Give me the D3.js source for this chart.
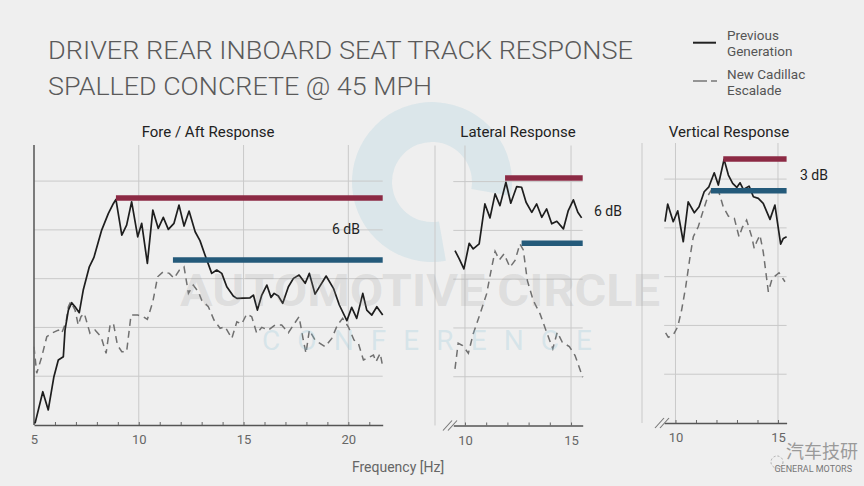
<!DOCTYPE html>
<html><head><meta charset="utf-8">
<script src="https://cdn.jsdelivr.net/npm/d3@7"></script>
<style>html,body{margin:0;padding:0;background:#efefef;} svg{display:block;}</style>
</head><body><svg id="c" width="864" height="486"></svg>
<script>
// ---------- DATA ----------
const titleLines = ["DRIVER REAR INBOARD SEAT TRACK RESPONSE", "SPALLED CONCRETE @ 45 MPH"];
const legendPrevious = ["Previous", "Generation"];
const legendNew = ["New Cadillac", "Escalade"];
const panelTitles = ["Fore / Aft Response", "Lateral Response", "Vertical Response"];
const xAxisTitle = "Frequency [Hz]";
const gridLevels = [5, 10, 15, 20, 25];          // dB grid
const foreAftTicks = [5, 10, 15, 20];
const lateralTicks = [10, 15];
const verticalTicks = [10, 15];

// [frequency Hz, level dB]
const foreAftPrevious = [[5.05,0.17],[5.42,3.41],[5.68,1.54],[5.95,4.95],[6.16,6.66],[6.40,7.00],[6.48,9.73],[6.64,11.78],[6.80,12.53],[6.96,12.12],[7.16,11.51],[7.35,13.83],[7.64,16.22],[7.86,17.18],[8.23,19.98],[8.55,21.69],[8.79,22.71],[8.91,23.13],[9.19,19.47],[9.42,20.49],[9.66,22.88],[9.95,19.29],[10.14,20.67],[10.41,16.57],[10.67,22.03],[10.93,20.15],[11.17,21.28],[11.41,20.05],[11.68,20.67],[11.92,22.54],[12.16,20.39],[12.40,21.93],[12.69,19.81],[12.92,18.90],[13.16,17.42],[13.48,15.54],[13.72,15.88],[13.96,15.54],[14.20,14.17],[14.51,13.22],[14.68,12.98],[15.31,13.04],[15.47,13.32],[15.66,11.78],[15.87,13.32],[16.11,14.34],[16.31,13.08],[16.46,13.49],[16.66,13.22],[16.87,12.47],[17.14,14.17],[17.38,15.03],[17.65,15.37],[17.94,14.52],[18.14,15.54],[18.41,13.42],[18.94,15.27],[19.29,14.01],[19.57,12.30],[19.93,10.69],[20.16,12.06],[20.40,10.93],[20.69,13.49],[20.88,11.78],[21.12,11.27],[21.36,12.12],[21.64,11.27]];
const foreAftNew = [[5.00,8.02],[5.13,5.30],[5.37,7.00],[5.61,9.05],[5.89,9.46],[6.16,9.73],[6.32,9.40],[6.53,10.58],[6.64,12.12],[6.75,12.63],[6.96,11.78],[7.11,10.25],[7.24,11.10],[7.40,11.44],[7.67,9.40],[7.91,9.73],[8.20,9.05],[8.44,7.35],[8.63,10.25],[8.79,10.42],[8.98,8.20],[9.19,7.51],[9.42,7.51],[9.63,11.27],[9.95,11.27],[10.22,11.10],[10.41,10.83],[10.67,12.63],[10.90,15.19],[11.17,15.71],[11.46,15.54],[11.68,15.03],[11.94,15.88],[12.16,16.22],[12.37,13.49],[12.60,14.34],[12.84,13.66],[13.00,12.81],[13.32,12.12],[13.59,10.76],[13.88,9.91],[14.12,10.07],[14.44,8.88],[14.68,10.58],[14.91,10.35],[15.15,11.37],[15.39,11.10],[15.63,9.40],[15.87,10.01],[16.18,9.73],[16.50,10.25],[16.82,10.25],[17.14,9.46],[17.38,10.25],[17.65,11.10],[17.85,8.71],[17.98,7.35],[18.14,9.73],[18.41,8.71],[18.89,8.02],[19.21,8.88],[19.48,10.25],[19.73,10.93],[20.00,10.07],[20.27,8.71],[20.48,8.37],[20.72,6.66],[20.88,6.83],[21.20,7.17],[21.32,6.49],[21.52,7.35],[21.64,5.97]];
const lateralPrevious = [[9.53,17.93],[9.73,17.08],[9.95,16.05],[10.20,18.68],[10.39,18.10],[10.67,18.62],[10.94,22.71],[11.18,21.28],[11.42,23.74],[11.65,22.54],[11.93,24.93],[12.16,22.78],[12.44,24.49],[12.67,24.42],[12.88,22.88],[13.15,21.85],[13.38,22.71],[13.62,21.34],[13.85,22.20],[14.09,20.67],[14.33,20.93],[14.64,20.15],[14.87,22.03],[15.11,23.13],[15.32,21.85],[15.50,21.28]];
const lateralNew = [[9.53,5.81],[9.68,8.43],[9.89,8.20],[10.16,7.41],[10.39,9.40],[10.71,11.44],[11.02,13.49],[11.26,16.22],[11.42,17.86],[11.62,16.98],[11.84,17.59],[12.12,16.22],[12.36,16.91],[12.59,18.62],[12.75,18.00],[12.94,14.86],[13.22,12.81],[13.54,11.44],[13.85,9.56],[14.14,7.86],[14.35,9.56],[14.59,8.53],[14.92,8.09],[15.19,7.17],[15.55,4.95]];
const verticalPrevious = [[9.49,20.63],[9.62,22.44],[9.89,20.63],[10.11,21.75],[10.38,18.58],[10.62,22.67],[10.92,21.55],[11.15,22.16],[11.40,23.70],[11.63,24.21],[11.89,25.65],[12.09,24.39],[12.37,27.02],[12.58,25.41],[12.79,24.56],[12.99,24.15],[13.15,24.62],[13.31,23.94],[13.59,24.28],[13.80,23.19],[14.04,23.02],[14.28,22.51],[14.61,20.87],[14.85,22.34],[15.13,18.34],[15.26,18.92],[15.42,19.09]];
const verticalNew = [[9.52,9.25],[9.65,8.78],[9.89,9.02],[10.11,9.87],[10.30,11.58],[10.50,13.97],[10.71,17.04],[10.87,19.09],[11.11,20.11],[11.36,21.82],[11.60,23.36],[11.80,24.05],[12.09,23.87],[12.33,22.16],[12.58,21.21],[12.87,20.97],[13.10,19.09],[13.26,20.05],[13.47,20.80],[13.72,19.09],[13.84,17.90],[13.96,18.58],[14.12,19.26],[14.28,17.55],[14.53,13.45],[14.72,14.83],[15.05,15.40],[15.34,14.48]];

// peak reference levels per panel (dB) and the frequency where each bar starts
const peakPrevious = [23.26, 25.36, 27.05];
const peakPreviousStart = [8.91, 11.89, 12.33];
const peakNew = [16.9, 18.67, 23.8];
const peakNewStart = [11.63, 12.67, 11.73];
const deltaLabels = ["6 dB", "6 dB", "3 dB"];

// ---------- LAYOUT ----------
const svg = d3.select("#c");
const FONT = "Roboto, 'Noto Sans', 'DejaVu Sans', sans-serif";
svg.append("rect").attr("width", 864).attr("height", 486).attr("fill", "#efefef");

// watermark (faint)
const wm = svg.append("g");
wm.append("path")
  .attr("transform", "translate(432,182)")
  .attr("d", d3.arc().innerRadius(40).outerRadius(80)
      .startAngle(170 * Math.PI / 180).endAngle(460 * Math.PI / 180)())
  .attr("fill", "rgba(140,195,215,0.2)");

const panels = [
  {title: panelTitles[0], titleX: 208, prev: foreAftPrevious, nw: foreAftNew, dom: [5, 21.64], rng: [34, 382.7],
   yb: 425, ticks: foreAftTicks, minor: d3.range(5, 22), leftLine: null, brk: null, deltaX: 332},
  {title: panelTitles[1], titleX: 518, prev: lateralPrevious, nw: lateralNew, dom: [9.45, 15.55], rng: [453.3, 582.7],
   yb: 425.5, ticks: lateralTicks, minor: d3.range(10, 16), leftLine: 435, brk: 443, deltaX: 594},
  {title: panelTitles[2], titleX: 729, prev: verticalPrevious, nw: verticalNew, dom: [9.45, 15.42], rng: [664.2, 786.6],
   yb: 423, ticks: verticalTicks, minor: d3.range(10, 16), leftLine: 642, brk: 655, deltaX: 800}
];

panels.forEach((p, i) => {
  const x = d3.scaleLinear().domain(p.dom).range(p.rng);
  const y = d3.scaleLinear().domain([0, 28.7]).range([p.yb, p.yb - 280]);
  const g = svg.append("g");
  const x0 = p.rng[0], x1 = p.rng[1];

  if (p.leftLine !== null) {
    g.append("line").attr("x1", p.leftLine).attr("x2", p.leftLine)
      .attr("y1", y(28.7)).attr("y2", p.yb).attr("stroke", "#cfcfcf").attr("stroke-width", 1.2);
  }
  g.selectAll(".hg").data(gridLevels).join("line")
    .attr("x1", x0).attr("x2", x1).attr("y1", d => y(d)).attr("y2", d => y(d))
    .attr("stroke", "#c9c9c9").attr("stroke-width", 1);
  g.selectAll(".vg").data(p.ticks.filter(t => t > p.dom[0] + 0.1)).join("line")
    .attr("x1", d => x(d)).attr("x2", d => x(d)).attr("y1", y(28.7)).attr("y2", p.yb)
    .attr("stroke", "#c9c9c9").attr("stroke-width", 1);
  if (i === 0) {
    g.append("line").attr("x1", x0).attr("x2", x0).attr("y1", y(28.7)).attr("y2", p.yb)
      .attr("stroke", "#555").attr("stroke-width", 1.5);
  }
  const ax = g.append("g").attr("transform", `translate(0,${p.yb})`)
    .call(d3.axisBottom(x).tickValues(p.minor)
      .tickFormat(d => p.ticks.includes(d) ? d : "")
      .tickSizeInner(-3).tickSizeOuter(0).tickPadding(10));
  ax.select(".domain").attr("stroke", "#555").attr("stroke-width", 1.5);
  ax.selectAll(".tick line").attr("stroke", "#666");
  ax.selectAll("text").attr("fill", "#666").attr("font-size", 13).attr("font-family", FONT);
  if (p.brk !== null) {
    [0, 5].forEach(o => g.append("line")
      .attr("x1", p.brk + o).attr("y1", p.yb + 5).attr("x2", p.brk + o + 9).attr("y2", p.yb - 5)
      .attr("stroke", "#777").attr("stroke-width", 1.1));
  }
  const line = d3.line().x(d => x(d[0])).y(d => y(d[1]));
  g.append("path").attr("d", line(p.nw)).attr("fill", "none")
    .attr("stroke", "#707070").attr("stroke-width", 1.5).attr("stroke-dasharray", "7,5");
  g.append("path").attr("d", line(p.prev)).attr("fill", "none")
    .attr("stroke", "#1e1e1e").attr("stroke-width", 1.7).attr("stroke-linejoin", "round");
  g.append("line").attr("x1", x(peakPreviousStart[i])).attr("x2", x1)
    .attr("y1", y(peakPrevious[i])).attr("y2", y(peakPrevious[i]))
    .attr("stroke", "#8c2a44").attr("stroke-width", 5.5);
  g.append("line").attr("x1", x(peakNewStart[i])).attr("x2", x1)
    .attr("y1", y(peakNew[i])).attr("y2", y(peakNew[i]))
    .attr("stroke", "#245a7a").attr("stroke-width", 5.5);
  g.append("text").attr("x", p.deltaX).attr("y", y((peakPrevious[i] + peakNew[i]) / 2) + 5)
    .attr("font-size", 14).attr("fill", "#222")
    .attr("font-family", FONT).text(deltaLabels[i]);
  g.append("text").attr("x", p.titleX).attr("y", 136.5).attr("text-anchor", "middle")
    .attr("font-size", 15).attr("fill", "#222").attr("font-family", FONT).text(p.title);
});

// watermark text
svg.append("text").attr("x", 180).attr("y", 306).attr("font-size", 44).attr("font-weight", 700)
  .attr("font-family", FONT).attr("fill", "rgba(150,150,150,0.2)")
  .attr("textLength", 480).attr("lengthAdjust", "spacingAndGlyphs").text("AUTOMOTIVE CIRCLE");
svg.append("text").attr("x", 262).attr("y", 350).attr("font-size", 28)
  .attr("font-family", FONT).attr("fill", "rgba(140,195,215,0.26)")
  .attr("textLength", 330).attr("lengthAdjust", "spacing").text("CONFERENCE");

// title
svg.selectAll(".title").data(titleLines).join("text")
  .attr("x", 48).attr("y", (d, i) => 59 + i * 35.5)
  .attr("font-size", 26.5).attr("font-weight", 300).attr("fill", "#5a5a5a").attr("font-family", FONT)
  .attr("textLength", (d, i) => i === 0 ? 585 : 384).attr("lengthAdjust", "spacingAndGlyphs")
  .text(d => d);

// legend
const lg = svg.append("g");
lg.append("line").attr("x1", 693).attr("x2", 716).attr("y1", 42.7).attr("y2", 42.7)
  .attr("stroke", "#222").attr("stroke-width", 2);
lg.append("line").attr("x1", 693).attr("x2", 717).attr("y1", 81).attr("y2", 81)
  .attr("stroke", "#777").attr("stroke-width", 1.6).attr("stroke-dasharray", "14,4,6");
[legendPrevious, legendNew].forEach((lab, k) => {
  lab.forEach((t, j) => lg.append("text").attr("x", 727).attr("y", (k ? 79 : 40) + j * 16)
    .attr("font-size", 13.5).attr("fill", "#555").attr("font-family", FONT).text(t));
});

// x axis title
svg.append("text").attr("x", 398).attr("y", 472).attr("text-anchor", "middle")
  .attr("font-size", 14).attr("fill", "#666").attr("font-family", FONT).text(xAxisTitle);

// bottom-right logo
svg.append("circle").attr("cx", 777).attr("cy", 462).attr("r", 6)
  .attr("fill", "none").attr("stroke", "#aaa").attr("stroke-width", 1).attr("stroke-dasharray", "2,2");
svg.append("text").attr("x", 858).attr("y", 458).attr("text-anchor", "end").attr("font-size", 18)
  .attr("font-family", "'Noto Sans CJK SC', sans-serif").attr("fill", "#9a9a9a").text("汽车技研");
svg.append("text").attr("x", 852).attr("y", 472).attr("text-anchor", "end").attr("font-size", 9)
  .attr("font-family", FONT).attr("fill", "#777").text("GENERAL MOTORS");
</script>
</body></html>
